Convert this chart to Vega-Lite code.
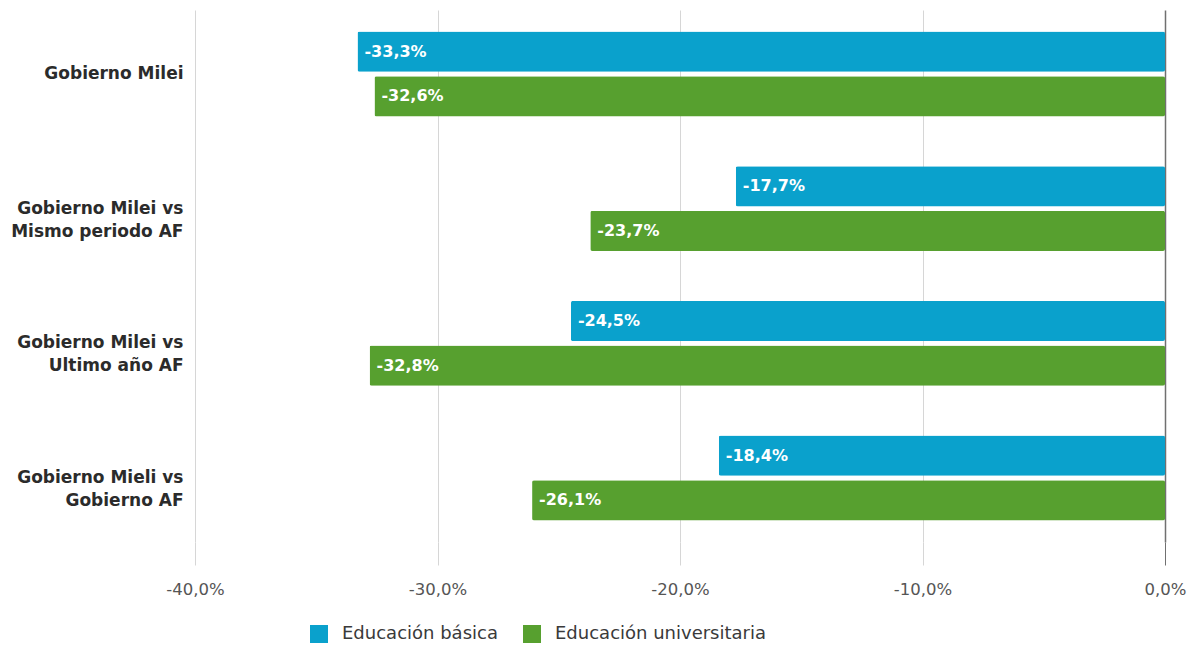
{
  "$schema": "https://vega.github.io/schema/vega-lite/v6.json",
  "width": 970,
  "height": 532,
  "autosize": {"type": "none"},
  "padding": {"left": 195, "top": 10, "right": 29, "bottom": 104},
  "background": "white",
  "config": {"view": {"stroke": null}, "font": "DejaVu Sans"},
  "data": {
    "values": [
      {"periodo": "Gobierno Milei", "serie": "Educación básica", "valor": -33.3},
      {"periodo": "Gobierno Milei", "serie": "Educación universitaria", "valor": -32.6},
      {"periodo": "Gobierno Milei vs|Mismo periodo AF", "serie": "Educación básica", "valor": -17.7},
      {"periodo": "Gobierno Milei vs|Mismo periodo AF", "serie": "Educación universitaria", "valor": -23.7},
      {"periodo": "Gobierno Milei vs|Ultimo año AF", "serie": "Educación básica", "valor": -24.5},
      {"periodo": "Gobierno Milei vs|Ultimo año AF", "serie": "Educación universitaria", "valor": -32.8},
      {"periodo": "Gobierno Mieli vs|Gobierno AF", "serie": "Educación básica", "valor": -18.4},
      {"periodo": "Gobierno Mieli vs|Gobierno AF", "serie": "Educación universitaria", "valor": -26.1}
    ]
  },
  "transform": [
    {"calculate": "'-' + replace(format(abs(datum.valor), '.1f'), '.', ',') + '%'", "as": "etiqueta"}
  ],
  "encoding": {
    "y": {
      "field": "periodo", "type": "nominal", "sort": null, "title": null,
      "scale": {"paddingInner": 0.37, "paddingOuter": 0.16},
      "axis": {
        "labelExpr": "split(datum.label, '|')",
        "labelFont": "DejaVu Sans", "labelFontWeight": "bold", "labelFontSize": 17,
        "labelColor": "#2b2b2b", "labelLineHeight": 23, "labelPadding": 12,
        "ticks": false, "domain": false, "labelLimit": 300
      }
    },
    "yOffset": {"field": "serie", "type": "nominal", "scale": {"paddingInner": 0.1, "paddingOuter": 0}},
    "x": {
      "field": "valor", "type": "quantitative", "title": null,
      "scale": {"domain": [-40, 0], "nice": false},
      "axis": {
        "values": [-40, -30, -20, -10, 0],
        "labelExpr": "(datum.value < 0 ? '-' : '') + replace(format(abs(datum.value), '.1f'), '.', ',') + '%'",
        "labelFont": "DejaVu Sans", "labelFontSize": 16.5, "labelColor": "#555555",
        "labelPadding": 16, "labelFlush": false, "labelOverlap": false, "domain": false,
        "tickSize": 23, "tickWidth": 1,
        "tickColor": {"condition": {"test": "datum.value === 0", "value": "#707070"}, "value": "#d6d6d6"},
        "gridColor": {"condition": {"test": "datum.value === 0", "value": "#707070"}, "value": "#d6d6d6"},
        "gridWidth": {"condition": {"test": "datum.value === 0", "value": 1.5}, "value": 1}
      }
    }
  },
  "layer": [
    {
      "mark": {"type": "bar", "cornerRadius": 2},
      "encoding": {
        "color": {
          "field": "serie", "type": "nominal", "title": null,
          "scale": {"domain": ["Educación básica", "Educación universitaria"], "range": ["#0aa1cc", "#57a02f"]},
          "legend": {
            "orient": "none", "direction": "horizontal", "legendX": 115, "legendY": 615,
            "symbolType": "square", "symbolSize": 324, "symbolStrokeWidth": 0,
            "labelFont": "DejaVu Sans", "labelFontSize": 18, "labelColor": "#3a3a3a",
            "columnPadding": 25, "labelOffset": 14, "labelLimit": 400
          }
        }
      }
    },
    {
      "mark": {"type": "text", "align": "left", "baseline": "middle", "dx": 7, "color": "white", "fontWeight": "bold", "fontSize": 16, "font": "DejaVu Sans"},
      "encoding": {"text": {"field": "etiqueta"}}
    }
  ]
}
